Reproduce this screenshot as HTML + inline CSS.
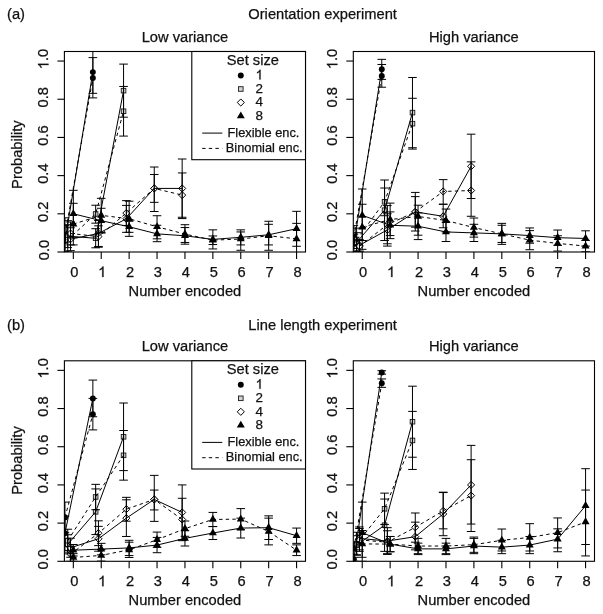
<!DOCTYPE html>
<html><head><meta charset="utf-8"><style>
html,body{margin:0;padding:0;background:#fff;}
svg{display:block;will-change:transform;}
text{font-family:"Liberation Sans",sans-serif;fill:#111;stroke:#111;stroke-width:0.25px;}
</style></head><body>
<svg width="603" height="614" viewBox="0 0 603 614">
<rect width="603" height="614" fill="#fff"/>
<defs><clipPath id="cAL"><rect x="64.40" y="51.50" width="241.10" height="200.50"/></clipPath></defs>
<g clip-path="url(#cAL)">
<circle cx="64.96" cy="240.92" r="2.97" fill="#000"/>
<circle cx="92.86" cy="72.12" r="2.97" fill="#000"/>
<circle cx="64.96" cy="235.01" r="2.97" fill="#000"/>
<circle cx="92.86" cy="78.04" r="2.97" fill="#000"/>
<rect x="65.45" y="233.85" width="4.60" height="4.60" fill="#d2d2d2" stroke="#1a1a1a" stroke-width="0.9"/>
<rect x="93.35" y="235.95" width="4.60" height="4.60" fill="#d2d2d2" stroke="#1a1a1a" stroke-width="0.9"/>
<rect x="121.26" y="88.35" width="4.60" height="4.60" fill="#d2d2d2" stroke="#1a1a1a" stroke-width="0.9"/>
<rect x="65.45" y="237.48" width="4.60" height="4.60" fill="#d2d2d2" stroke="#1a1a1a" stroke-width="0.9"/>
<rect x="93.35" y="211.70" width="4.60" height="4.60" fill="#d2d2d2" stroke="#1a1a1a" stroke-width="0.9"/>
<rect x="121.26" y="108.97" width="4.60" height="4.60" fill="#d2d2d2" stroke="#1a1a1a" stroke-width="0.9"/>
<path d="M70.54 235.64L74.10 239.21L70.54 242.77L66.98 239.21Z" fill="#fff" stroke="#000" stroke-width="1"/>
<path d="M98.44 229.91L102.01 233.48L98.44 237.04L94.88 233.48Z" fill="#fff" stroke="#000" stroke-width="1"/>
<path d="M126.35 215.21L129.91 218.77L126.35 222.34L122.79 218.77Z" fill="#fff" stroke="#000" stroke-width="1"/>
<path d="M154.25 184.85L157.82 188.41L154.25 191.98L150.69 188.41Z" fill="#fff" stroke="#000" stroke-width="1"/>
<path d="M182.16 184.85L185.72 188.41L182.16 191.98L178.60 188.41Z" fill="#fff" stroke="#000" stroke-width="1"/>
<path d="M70.54 229.91L74.10 233.48L70.54 237.04L66.98 233.48Z" fill="#fff" stroke="#000" stroke-width="1"/>
<path d="M98.44 232.97L102.01 236.53L98.44 240.10L94.88 236.53Z" fill="#fff" stroke="#000" stroke-width="1"/>
<path d="M126.35 209.48L129.91 213.05L126.35 216.61L122.79 213.05Z" fill="#fff" stroke="#000" stroke-width="1"/>
<path d="M154.25 184.85L157.82 188.41L154.25 191.98L150.69 188.41Z" fill="#fff" stroke="#000" stroke-width="1"/>
<path d="M182.16 191.53L185.72 195.10L182.16 198.66L178.60 195.10Z" fill="#fff" stroke="#000" stroke-width="1"/>
<path d="M73.33 209.19L77.33 216.12L69.33 216.12Z" fill="#000"/>
<path d="M101.23 216.07L105.23 222.99L97.23 222.99Z" fill="#000"/>
<path d="M129.14 222.18L133.14 229.10L125.14 229.10Z" fill="#000"/>
<path d="M157.04 229.24L161.04 236.17L153.04 236.17Z" fill="#000"/>
<path d="M184.95 231.15L188.95 238.08L180.95 238.08Z" fill="#000"/>
<path d="M212.86 234.78L216.86 241.71L208.86 241.71Z" fill="#000"/>
<path d="M240.76 232.68L244.76 239.61L236.76 239.61Z" fill="#000"/>
<path d="M268.67 230.20L272.67 237.12L264.67 237.12Z" fill="#000"/>
<path d="M296.57 224.09L300.57 231.01L292.57 231.01Z" fill="#000"/>
<path d="M73.33 219.50L77.33 226.43L69.33 226.43Z" fill="#000"/>
<path d="M101.23 210.72L105.23 217.65L97.23 217.65Z" fill="#000"/>
<path d="M129.14 214.16L133.14 221.08L125.14 221.08Z" fill="#000"/>
<path d="M157.04 222.18L161.04 229.10L153.04 229.10Z" fill="#000"/>
<path d="M184.95 229.43L188.95 236.36L180.95 236.36Z" fill="#000"/>
<path d="M212.86 235.54L216.86 242.47L208.86 242.47Z" fill="#000"/>
<path d="M240.76 234.40L244.76 241.32L236.76 241.32Z" fill="#000"/>
<path d="M268.67 231.15L272.67 238.08L264.67 238.08Z" fill="#000"/>
<path d="M296.57 234.21L300.57 241.13L292.57 241.13Z" fill="#000"/>
<path d="M64.96 240.92 L92.86 72.12" stroke="#000" stroke-width="1.0" fill="none"/>
<path d="M64.96 235.01 L92.86 78.04" stroke="#000" stroke-width="1.0" fill="none" stroke-dasharray="3.4 3.2"/>
<path d="M67.75 236.15 L95.65 238.25 L123.56 90.65" stroke="#000" stroke-width="1.0" fill="none"/>
<path d="M67.75 239.78 L95.65 214.00 L123.56 111.27" stroke="#000" stroke-width="1.0" fill="none" stroke-dasharray="3.4 3.2"/>
<path d="M70.54 239.21 L98.44 233.48 L126.35 218.77 L154.25 188.41 L182.16 188.41" stroke="#000" stroke-width="1.0" fill="none"/>
<path d="M70.54 233.48 L98.44 236.53 L126.35 213.05 L154.25 188.41 L182.16 195.10" stroke="#000" stroke-width="1.0" fill="none" stroke-dasharray="3.4 3.2"/>
<path d="M73.33 213.81 L101.23 220.68 L129.14 226.79 L157.04 233.86 L184.95 235.77 L212.86 239.40 L240.76 237.30 L268.67 234.81 L296.57 228.70" stroke="#000" stroke-width="1.0" fill="none"/>
<path d="M73.33 224.12 L101.23 215.34 L129.14 218.77 L157.04 226.79 L184.95 234.05 L212.86 240.16 L240.76 239.02 L268.67 235.77 L296.57 238.82" stroke="#000" stroke-width="1.0" fill="none" stroke-dasharray="3.4 3.2"/>
<path d="M64.96 252.00V225.65M60.66 252.00H69.26M60.66 225.65H69.26" stroke="#000" stroke-width="1.0" fill="none"/>
<path d="M92.86 93.32V50.93M88.56 93.32H97.16M88.56 50.93H97.16" stroke="#000" stroke-width="1.0" fill="none"/>
<path d="M64.96 252.00V217.82M60.66 252.00H69.26M60.66 217.82H69.26" stroke="#000" stroke-width="1.0" fill="none"/>
<path d="M92.86 97.90V57.61M88.56 97.90H97.16M88.56 57.61H97.16" stroke="#000" stroke-width="1.0" fill="none"/>
<path d="M67.75 247.61V224.69M63.45 247.61H72.05M63.45 224.69H72.05" stroke="#000" stroke-width="1.0" fill="none"/>
<path d="M95.65 247.80V228.70M91.35 247.80H99.95M91.35 228.70H99.95" stroke="#000" stroke-width="1.0" fill="none"/>
<path d="M123.56 117.19V64.10M119.26 117.19H127.86M119.26 64.10H127.86" stroke="#000" stroke-width="1.0" fill="none"/>
<path d="M67.75 252.00V220.68M63.45 252.00H72.05M63.45 220.68H72.05" stroke="#000" stroke-width="1.0" fill="none"/>
<path d="M95.65 223.17V205.22M91.35 223.17H99.95M91.35 205.22H99.95" stroke="#000" stroke-width="1.0" fill="none"/>
<path d="M123.56 136.09V86.44M119.26 136.09H127.86M119.26 86.44H127.86" stroke="#000" stroke-width="1.0" fill="none"/>
<path d="M70.54 250.66V227.75M66.24 250.66H74.84M66.24 227.75H74.84" stroke="#000" stroke-width="1.0" fill="none"/>
<path d="M98.44 246.46V220.49M94.14 246.46H102.74M94.14 220.49H102.74" stroke="#000" stroke-width="1.0" fill="none"/>
<path d="M126.35 232.33V205.41M122.05 232.33H130.65M122.05 205.41H130.65" stroke="#000" stroke-width="1.0" fill="none"/>
<path d="M154.25 211.52V167.03M149.95 211.52H158.55M149.95 167.03H158.55" stroke="#000" stroke-width="1.0" fill="none"/>
<path d="M182.16 218.58V159.01M177.86 218.58H186.46M177.86 159.01H186.46" stroke="#000" stroke-width="1.0" fill="none"/>
<path d="M70.54 244.93V222.02M66.24 244.93H74.84M66.24 222.02H74.84" stroke="#000" stroke-width="1.0" fill="none"/>
<path d="M98.44 247.23V225.84M94.14 247.23H102.74M94.14 225.84H102.74" stroke="#000" stroke-width="1.0" fill="none"/>
<path d="M126.35 225.46V200.63M122.05 225.46H130.65M122.05 200.63H130.65" stroke="#000" stroke-width="1.0" fill="none"/>
<path d="M154.25 202.35V174.47M149.95 202.35H158.55M149.95 174.47H158.55" stroke="#000" stroke-width="1.0" fill="none"/>
<path d="M182.16 217.25V172.95M177.86 217.25H186.46M177.86 172.95H186.46" stroke="#000" stroke-width="1.0" fill="none"/>
<path d="M73.33 237.30V190.32M69.03 237.30H77.63M69.03 190.32H77.63" stroke="#000" stroke-width="1.0" fill="none"/>
<path d="M101.23 233.10V208.27M96.93 233.10H105.53M96.93 208.27H105.53" stroke="#000" stroke-width="1.0" fill="none"/>
<path d="M129.14 232.33V221.26M124.84 232.33H133.44M124.84 221.26H133.44" stroke="#000" stroke-width="1.0" fill="none"/>
<path d="M157.04 241.69V225.27M152.74 241.69H161.34M152.74 225.27H161.34" stroke="#000" stroke-width="1.0" fill="none"/>
<path d="M184.95 244.17V227.56M180.65 244.17H189.25M180.65 227.56H189.25" stroke="#000" stroke-width="1.0" fill="none"/>
<path d="M212.86 248.94V229.85M208.56 248.94H217.16M208.56 229.85H217.16" stroke="#000" stroke-width="1.0" fill="none"/>
<path d="M240.76 244.93V229.85M236.46 244.93H245.06M236.46 229.85H245.06" stroke="#000" stroke-width="1.0" fill="none"/>
<path d="M268.67 244.93V224.31M264.37 244.93H272.97M264.37 224.31H272.97" stroke="#000" stroke-width="1.0" fill="none"/>
<path d="M296.57 246.27V211.33M292.27 246.27H300.87M292.27 211.33H300.87" stroke="#000" stroke-width="1.0" fill="none"/>
<path d="M73.33 244.93V203.31M69.03 244.93H77.63M69.03 203.31H77.63" stroke="#000" stroke-width="1.0" fill="none"/>
<path d="M101.23 232.33V198.34M96.93 232.33H105.53M96.93 198.34H105.53" stroke="#000" stroke-width="1.0" fill="none"/>
<path d="M129.14 236.34V201.21M124.84 236.34H133.44M124.84 201.21H133.44" stroke="#000" stroke-width="1.0" fill="none"/>
<path d="M157.04 238.82V215.72M152.74 238.82H161.34M152.74 215.72H161.34" stroke="#000" stroke-width="1.0" fill="none"/>
<path d="M184.95 242.45V224.69M180.65 242.45H189.25M180.65 224.69H189.25" stroke="#000" stroke-width="1.0" fill="none"/>
<path d="M212.86 244.55V235.96M208.56 244.55H217.16M208.56 235.96H217.16" stroke="#000" stroke-width="1.0" fill="none"/>
<path d="M240.76 250.28V231.95M236.46 250.28H245.06M236.46 231.95H245.06" stroke="#000" stroke-width="1.0" fill="none"/>
<path d="M268.67 250.28V221.26M264.37 250.28H272.97M264.37 221.26H272.97" stroke="#000" stroke-width="1.0" fill="none"/>
<path d="M296.57 254.29V223.36M292.27 254.29H300.87M292.27 223.36H300.87" stroke="#000" stroke-width="1.0" fill="none"/>
</g>
<rect x="64.40" y="51.50" width="241.10" height="200.50" fill="none" stroke="#000" stroke-width="1.1"/>
<line x1="73.33" y1="252.00" x2="73.33" y2="259.00" stroke="#000" stroke-width="1.1"/>
<text x="74.23" y="277.00" font-size="14.7" text-anchor="middle">0</text>
<line x1="101.23" y1="252.00" x2="101.23" y2="259.00" stroke="#000" stroke-width="1.1"/>
<g><path d="M103.52 277.00L102.23 277.00L102.23 268.77L101.78 269.18L101.06 269.68L100.34 270.07L99.65 270.36L99.65 269.14L100.70 268.60L101.56 267.92L102.17 267.24L102.55 266.48L103.52 266.48Z" fill="#111" stroke="#111" stroke-width="0.25"/></g>
<line x1="129.14" y1="252.00" x2="129.14" y2="259.00" stroke="#000" stroke-width="1.1"/>
<text x="130.04" y="277.00" font-size="14.7" text-anchor="middle">2</text>
<line x1="157.04" y1="252.00" x2="157.04" y2="259.00" stroke="#000" stroke-width="1.1"/>
<text x="157.94" y="277.00" font-size="14.7" text-anchor="middle">3</text>
<line x1="184.95" y1="252.00" x2="184.95" y2="259.00" stroke="#000" stroke-width="1.1"/>
<text x="185.85" y="277.00" font-size="14.7" text-anchor="middle">4</text>
<line x1="212.86" y1="252.00" x2="212.86" y2="259.00" stroke="#000" stroke-width="1.1"/>
<text x="213.76" y="277.00" font-size="14.7" text-anchor="middle">5</text>
<line x1="240.76" y1="252.00" x2="240.76" y2="259.00" stroke="#000" stroke-width="1.1"/>
<text x="241.66" y="277.00" font-size="14.7" text-anchor="middle">6</text>
<line x1="268.67" y1="252.00" x2="268.67" y2="259.00" stroke="#000" stroke-width="1.1"/>
<text x="269.57" y="277.00" font-size="14.7" text-anchor="middle">7</text>
<line x1="296.57" y1="252.00" x2="296.57" y2="259.00" stroke="#000" stroke-width="1.1"/>
<text x="297.47" y="277.00" font-size="14.7" text-anchor="middle">8</text>
<line x1="57.40" y1="252.00" x2="64.40" y2="252.00" stroke="#000" stroke-width="1.1"/>
<text x="48.50" y="250.00" font-size="14.7" text-anchor="middle" transform="rotate(-90 48.50 250.00)">0.0</text>
<line x1="57.40" y1="213.81" x2="64.40" y2="213.81" stroke="#000" stroke-width="1.1"/>
<text x="48.50" y="211.81" font-size="14.7" text-anchor="middle" transform="rotate(-90 48.50 211.81)">0.2</text>
<line x1="57.40" y1="175.62" x2="64.40" y2="175.62" stroke="#000" stroke-width="1.1"/>
<text x="48.50" y="173.62" font-size="14.7" text-anchor="middle" transform="rotate(-90 48.50 173.62)">0.4</text>
<line x1="57.40" y1="137.43" x2="64.40" y2="137.43" stroke="#000" stroke-width="1.1"/>
<text x="48.50" y="135.43" font-size="14.7" text-anchor="middle" transform="rotate(-90 48.50 135.43)">0.6</text>
<line x1="57.40" y1="99.24" x2="64.40" y2="99.24" stroke="#000" stroke-width="1.1"/>
<text x="48.50" y="97.24" font-size="14.7" text-anchor="middle" transform="rotate(-90 48.50 97.24)">0.8</text>
<line x1="57.40" y1="61.05" x2="64.40" y2="61.05" stroke="#000" stroke-width="1.1"/>
<g transform="rotate(-90 48.50 59.05)"><path d="M43.76 59.05L42.47 59.05L42.47 50.81L42.01 51.22L41.30 51.73L40.58 52.12L39.88 52.41L39.88 51.19L40.94 50.65L41.80 49.97L42.41 49.29L42.79 48.53L43.76 48.53Z" fill="#111" stroke="#111" stroke-width="0.25"/><text x="46.46" y="59.05" font-size="14.7" text-anchor="start">.0</text></g>
<text x="184.95" y="296.00" font-size="14.7" text-anchor="middle">Number encoded</text>
<text x="184.95" y="42.00" font-size="14.7" text-anchor="middle">Low variance</text>
<text x="21.60" y="154.60" font-size="14.7" text-anchor="middle" transform="rotate(-90 21.60 154.60)">Probability</text>
<defs><clipPath id="cAR"><rect x="353.30" y="51.50" width="241.20" height="200.50"/></clipPath></defs>
<g clip-path="url(#cAR)">
<circle cx="353.86" cy="243.79" r="2.97" fill="#000"/>
<circle cx="381.78" cy="69.26" r="2.97" fill="#000"/>
<circle cx="353.86" cy="237.11" r="2.97" fill="#000"/>
<circle cx="381.78" cy="75.94" r="2.97" fill="#000"/>
<rect x="354.35" y="239.96" width="4.60" height="4.60" fill="#d2d2d2" stroke="#1a1a1a" stroke-width="0.9"/>
<rect x="382.27" y="207.88" width="4.60" height="4.60" fill="#d2d2d2" stroke="#1a1a1a" stroke-width="0.9"/>
<rect x="410.18" y="110.30" width="4.60" height="4.60" fill="#d2d2d2" stroke="#1a1a1a" stroke-width="0.9"/>
<rect x="354.35" y="237.29" width="4.60" height="4.60" fill="#d2d2d2" stroke="#1a1a1a" stroke-width="0.9"/>
<rect x="382.27" y="199.48" width="4.60" height="4.60" fill="#d2d2d2" stroke="#1a1a1a" stroke-width="0.9"/>
<rect x="410.18" y="121.38" width="4.60" height="4.60" fill="#d2d2d2" stroke="#1a1a1a" stroke-width="0.9"/>
<path d="M359.44 241.75L363.01 245.32L359.44 248.88L355.88 245.32Z" fill="#fff" stroke="#000" stroke-width="1"/>
<path d="M387.36 226.29L390.92 229.85L387.36 233.41L383.79 229.85Z" fill="#fff" stroke="#000" stroke-width="1"/>
<path d="M415.27 208.34L418.84 211.90L415.27 215.46L411.71 211.90Z" fill="#fff" stroke="#000" stroke-width="1"/>
<path d="M443.19 212.73L446.76 216.29L443.19 219.86L439.63 216.29Z" fill="#fff" stroke="#000" stroke-width="1"/>
<path d="M471.11 162.70L474.67 166.26L471.11 169.83L467.54 166.26Z" fill="#fff" stroke="#000" stroke-width="1"/>
<path d="M359.44 242.71L363.01 246.27L359.44 249.84L355.88 246.27Z" fill="#fff" stroke="#000" stroke-width="1"/>
<path d="M387.36 221.13L390.92 224.69L387.36 228.26L383.79 224.69Z" fill="#fff" stroke="#000" stroke-width="1"/>
<path d="M415.27 208.34L418.84 211.90L415.27 215.46L411.71 211.90Z" fill="#fff" stroke="#000" stroke-width="1"/>
<path d="M443.19 187.90L446.76 191.47L443.19 195.03L439.63 191.47Z" fill="#fff" stroke="#000" stroke-width="1"/>
<path d="M471.11 186.95L474.67 190.51L471.11 194.08L467.54 190.51Z" fill="#fff" stroke="#000" stroke-width="1"/>
<path d="M362.23 210.72L366.23 217.65L358.23 217.65Z" fill="#000"/>
<path d="M390.15 220.65L394.15 227.58L386.15 227.58Z" fill="#000"/>
<path d="M418.07 221.60L422.07 228.53L414.07 228.53Z" fill="#000"/>
<path d="M445.98 227.33L449.98 234.26L441.98 234.26Z" fill="#000"/>
<path d="M473.90 228.29L477.90 235.21L469.90 235.21Z" fill="#000"/>
<path d="M501.82 229.24L505.82 236.17L497.82 236.17Z" fill="#000"/>
<path d="M529.73 230.96L533.73 237.89L525.73 237.89Z" fill="#000"/>
<path d="M557.65 233.06L561.65 239.99L553.65 239.99Z" fill="#000"/>
<path d="M585.57 233.82L589.57 240.75L581.57 240.75Z" fill="#000"/>
<path d="M362.23 222.56L366.23 229.49L358.23 229.49Z" fill="#000"/>
<path d="M390.15 214.92L394.15 221.85L386.15 221.85Z" fill="#000"/>
<path d="M418.07 211.86L422.07 218.79L414.07 218.79Z" fill="#000"/>
<path d="M445.98 215.87L449.98 222.80L441.98 222.80Z" fill="#000"/>
<path d="M473.90 222.94L477.90 229.87L469.90 229.87Z" fill="#000"/>
<path d="M501.82 229.24L505.82 236.17L497.82 236.17Z" fill="#000"/>
<path d="M529.73 235.54L533.73 242.47L525.73 242.47Z" fill="#000"/>
<path d="M557.65 238.79L561.65 245.72L553.65 245.72Z" fill="#000"/>
<path d="M585.57 241.46L589.57 248.39L581.57 248.39Z" fill="#000"/>
<path d="M353.86 243.79 L381.78 69.26" stroke="#000" stroke-width="1.0" fill="none"/>
<path d="M353.86 237.11 L381.78 75.94" stroke="#000" stroke-width="1.0" fill="none" stroke-dasharray="3.4 3.2"/>
<path d="M356.65 242.26 L384.57 210.18 L412.48 112.60" stroke="#000" stroke-width="1.0" fill="none"/>
<path d="M356.65 239.59 L384.57 201.78 L412.48 123.68" stroke="#000" stroke-width="1.0" fill="none" stroke-dasharray="3.4 3.2"/>
<path d="M359.44 245.32 L387.36 229.85 L415.27 211.90 L443.19 216.29 L471.11 166.26" stroke="#000" stroke-width="1.0" fill="none"/>
<path d="M359.44 246.27 L387.36 224.69 L415.27 211.90 L443.19 191.47 L471.11 190.51" stroke="#000" stroke-width="1.0" fill="none" stroke-dasharray="3.4 3.2"/>
<path d="M362.23 215.34 L390.15 225.27 L418.07 226.22 L445.98 231.95 L473.90 232.90 L501.82 233.86 L529.73 235.58 L557.65 237.68 L585.57 238.44" stroke="#000" stroke-width="1.0" fill="none"/>
<path d="M362.23 227.18 L390.15 219.54 L418.07 216.48 L445.98 220.49 L473.90 227.56 L501.82 233.86 L529.73 240.16 L557.65 243.41 L585.57 246.08" stroke="#000" stroke-width="1.0" fill="none" stroke-dasharray="3.4 3.2"/>
<path d="M353.86 252.00V234.24M349.56 252.00H358.16M349.56 234.24H358.16" stroke="#000" stroke-width="1.0" fill="none"/>
<path d="M381.78 79.38V59.33M377.48 79.38H386.08M377.48 59.33H386.08" stroke="#000" stroke-width="1.0" fill="none"/>
<path d="M353.86 248.56V225.65M349.56 248.56H358.16M349.56 225.65H358.16" stroke="#000" stroke-width="1.0" fill="none"/>
<path d="M381.78 87.21V64.48M377.48 87.21H386.08M377.48 64.48H386.08" stroke="#000" stroke-width="1.0" fill="none"/>
<path d="M356.65 251.81V232.71M352.35 251.81H360.95M352.35 232.71H360.95" stroke="#000" stroke-width="1.0" fill="none"/>
<path d="M384.57 240.54V180.01M380.27 240.54H388.87M380.27 180.01H388.87" stroke="#000" stroke-width="1.0" fill="none"/>
<path d="M412.48 147.74V77.47M408.18 147.74H416.78M408.18 77.47H416.78" stroke="#000" stroke-width="1.0" fill="none"/>
<path d="M356.65 251.05V228.13M352.35 251.05H360.95M352.35 228.13H360.95" stroke="#000" stroke-width="1.0" fill="none"/>
<path d="M384.57 215.72V188.03M380.27 215.72H388.87M380.27 188.03H388.87" stroke="#000" stroke-width="1.0" fill="none"/>
<path d="M412.48 149.08V98.28M408.18 149.08H416.78M408.18 98.28H416.78" stroke="#000" stroke-width="1.0" fill="none"/>
<path d="M359.44 251.05V239.59M355.14 251.05H363.74M355.14 239.59H363.74" stroke="#000" stroke-width="1.0" fill="none"/>
<path d="M387.36 246.08V213.81M383.06 246.08H391.66M383.06 213.81H391.66" stroke="#000" stroke-width="1.0" fill="none"/>
<path d="M415.27 231.00V192.42M410.97 231.00H419.57M410.97 192.42H419.57" stroke="#000" stroke-width="1.0" fill="none"/>
<path d="M443.19 227.75V204.26M438.89 227.75H447.49M438.89 204.26H447.49" stroke="#000" stroke-width="1.0" fill="none"/>
<path d="M471.11 198.53V134.18M466.81 198.53H475.41M466.81 134.18H475.41" stroke="#000" stroke-width="1.0" fill="none"/>
<path d="M359.44 252.00V240.54M355.14 252.00H363.74M355.14 240.54H363.74" stroke="#000" stroke-width="1.0" fill="none"/>
<path d="M387.36 243.79V205.60M383.06 243.79H391.66M383.06 205.60H391.66" stroke="#000" stroke-width="1.0" fill="none"/>
<path d="M415.27 227.18V196.62M410.97 227.18H419.57M410.97 196.62H419.57" stroke="#000" stroke-width="1.0" fill="none"/>
<path d="M443.19 204.26V179.63M438.89 204.26H447.49M438.89 179.63H447.49" stroke="#000" stroke-width="1.0" fill="none"/>
<path d="M471.11 216.29V161.87M466.81 216.29H475.41M466.81 161.87H475.41" stroke="#000" stroke-width="1.0" fill="none"/>
<path d="M362.23 240.54V188.99M357.93 240.54H366.53M357.93 188.99H366.53" stroke="#000" stroke-width="1.0" fill="none"/>
<path d="M390.15 238.63V211.90M385.85 238.63H394.45M385.85 211.90H394.45" stroke="#000" stroke-width="1.0" fill="none"/>
<path d="M418.07 239.59V212.85M413.77 239.59H422.37M413.77 212.85H422.37" stroke="#000" stroke-width="1.0" fill="none"/>
<path d="M445.98 241.50V222.40M441.68 241.50H450.28M441.68 222.40H450.28" stroke="#000" stroke-width="1.0" fill="none"/>
<path d="M473.90 241.50V224.31M469.60 241.50H478.20M469.60 224.31H478.20" stroke="#000" stroke-width="1.0" fill="none"/>
<path d="M501.82 244.36V223.36M497.52 244.36H506.12M497.52 223.36H506.12" stroke="#000" stroke-width="1.0" fill="none"/>
<path d="M529.73 243.22V227.94M525.43 243.22H534.03M525.43 227.94H534.03" stroke="#000" stroke-width="1.0" fill="none"/>
<path d="M557.65 245.32V230.04M553.35 245.32H561.95M553.35 230.04H561.95" stroke="#000" stroke-width="1.0" fill="none"/>
<path d="M585.57 246.08V230.80M581.27 246.08H589.87M581.27 230.80H589.87" stroke="#000" stroke-width="1.0" fill="none"/>
<path d="M362.23 249.33V204.26M357.93 249.33H366.53M357.93 204.26H366.53" stroke="#000" stroke-width="1.0" fill="none"/>
<path d="M390.15 235.58V203.12M385.85 235.58H394.45M385.85 203.12H394.45" stroke="#000" stroke-width="1.0" fill="none"/>
<path d="M418.07 235.20V205.22M413.77 235.20H422.37M413.77 205.22H422.37" stroke="#000" stroke-width="1.0" fill="none"/>
<path d="M445.98 231.95V209.04M441.68 231.95H450.28M441.68 209.04H450.28" stroke="#000" stroke-width="1.0" fill="none"/>
<path d="M473.90 237.11V218.01M469.60 237.11H478.20M469.60 218.01H478.20" stroke="#000" stroke-width="1.0" fill="none"/>
<path d="M501.82 242.45V225.27M497.52 242.45H506.12M497.52 225.27H506.12" stroke="#000" stroke-width="1.0" fill="none"/>
<path d="M529.73 249.71V230.61M525.43 249.71H534.03M525.43 230.61H534.03" stroke="#000" stroke-width="1.0" fill="none"/>
<path d="M557.65 251.05V235.77M553.35 251.05H561.95M553.35 235.77H561.95" stroke="#000" stroke-width="1.0" fill="none"/>
<path d="M585.57 251.81V240.35M581.27 251.81H589.87M581.27 240.35H589.87" stroke="#000" stroke-width="1.0" fill="none"/>
</g>
<rect x="353.30" y="51.50" width="241.20" height="200.50" fill="none" stroke="#000" stroke-width="1.1"/>
<line x1="362.23" y1="252.00" x2="362.23" y2="259.00" stroke="#000" stroke-width="1.1"/>
<text x="363.13" y="277.00" font-size="14.7" text-anchor="middle">0</text>
<line x1="390.15" y1="252.00" x2="390.15" y2="259.00" stroke="#000" stroke-width="1.1"/>
<g><path d="M392.44 277.00L391.15 277.00L391.15 268.77L390.69 269.18L389.98 269.68L389.26 270.07L388.56 270.36L388.56 269.14L389.62 268.60L390.48 267.92L391.09 267.24L391.47 266.48L392.44 266.48Z" fill="#111" stroke="#111" stroke-width="0.25"/></g>
<line x1="418.07" y1="252.00" x2="418.07" y2="259.00" stroke="#000" stroke-width="1.1"/>
<text x="418.97" y="277.00" font-size="14.7" text-anchor="middle">2</text>
<line x1="445.98" y1="252.00" x2="445.98" y2="259.00" stroke="#000" stroke-width="1.1"/>
<text x="446.88" y="277.00" font-size="14.7" text-anchor="middle">3</text>
<line x1="473.90" y1="252.00" x2="473.90" y2="259.00" stroke="#000" stroke-width="1.1"/>
<text x="474.80" y="277.00" font-size="14.7" text-anchor="middle">4</text>
<line x1="501.82" y1="252.00" x2="501.82" y2="259.00" stroke="#000" stroke-width="1.1"/>
<text x="502.72" y="277.00" font-size="14.7" text-anchor="middle">5</text>
<line x1="529.73" y1="252.00" x2="529.73" y2="259.00" stroke="#000" stroke-width="1.1"/>
<text x="530.63" y="277.00" font-size="14.7" text-anchor="middle">6</text>
<line x1="557.65" y1="252.00" x2="557.65" y2="259.00" stroke="#000" stroke-width="1.1"/>
<text x="558.55" y="277.00" font-size="14.7" text-anchor="middle">7</text>
<line x1="585.57" y1="252.00" x2="585.57" y2="259.00" stroke="#000" stroke-width="1.1"/>
<text x="586.47" y="277.00" font-size="14.7" text-anchor="middle">8</text>
<line x1="346.30" y1="252.00" x2="353.30" y2="252.00" stroke="#000" stroke-width="1.1"/>
<text x="337.40" y="250.00" font-size="14.7" text-anchor="middle" transform="rotate(-90 337.40 250.00)">0.0</text>
<line x1="346.30" y1="213.81" x2="353.30" y2="213.81" stroke="#000" stroke-width="1.1"/>
<text x="337.40" y="211.81" font-size="14.7" text-anchor="middle" transform="rotate(-90 337.40 211.81)">0.2</text>
<line x1="346.30" y1="175.62" x2="353.30" y2="175.62" stroke="#000" stroke-width="1.1"/>
<text x="337.40" y="173.62" font-size="14.7" text-anchor="middle" transform="rotate(-90 337.40 173.62)">0.4</text>
<line x1="346.30" y1="137.43" x2="353.30" y2="137.43" stroke="#000" stroke-width="1.1"/>
<text x="337.40" y="135.43" font-size="14.7" text-anchor="middle" transform="rotate(-90 337.40 135.43)">0.6</text>
<line x1="346.30" y1="99.24" x2="353.30" y2="99.24" stroke="#000" stroke-width="1.1"/>
<text x="337.40" y="97.24" font-size="14.7" text-anchor="middle" transform="rotate(-90 337.40 97.24)">0.8</text>
<line x1="346.30" y1="61.05" x2="353.30" y2="61.05" stroke="#000" stroke-width="1.1"/>
<g transform="rotate(-90 337.40 59.05)"><path d="M332.66 59.05L331.37 59.05L331.37 50.81L330.91 51.22L330.20 51.73L329.48 52.12L328.78 52.41L328.78 51.19L329.84 50.65L330.70 49.97L331.31 49.29L331.69 48.53L332.66 48.53Z" fill="#111" stroke="#111" stroke-width="0.25"/><text x="335.36" y="59.05" font-size="14.7" text-anchor="start">.0</text></g>
<text x="473.90" y="296.00" font-size="14.7" text-anchor="middle">Number encoded</text>
<text x="473.90" y="42.00" font-size="14.7" text-anchor="middle">High variance</text>
<defs><clipPath id="cBL"><rect x="64.40" y="360.80" width="241.10" height="200.50"/></clipPath></defs>
<g clip-path="url(#cBL)">
<circle cx="64.96" cy="533.23" r="2.97" fill="#000"/>
<circle cx="92.86" cy="398.42" r="2.97" fill="#000"/>
<circle cx="64.96" cy="517.38" r="2.97" fill="#000"/>
<circle cx="92.86" cy="414.27" r="2.97" fill="#000"/>
<rect x="65.45" y="542.01" width="4.60" height="4.60" fill="#d2d2d2" stroke="#1a1a1a" stroke-width="0.9"/>
<rect x="93.35" y="509.54" width="4.60" height="4.60" fill="#d2d2d2" stroke="#1a1a1a" stroke-width="0.9"/>
<rect x="121.26" y="434.50" width="4.60" height="4.60" fill="#d2d2d2" stroke="#1a1a1a" stroke-width="0.9"/>
<rect x="65.45" y="538.38" width="4.60" height="4.60" fill="#d2d2d2" stroke="#1a1a1a" stroke-width="0.9"/>
<rect x="93.35" y="494.65" width="4.60" height="4.60" fill="#d2d2d2" stroke="#1a1a1a" stroke-width="0.9"/>
<rect x="121.26" y="453.02" width="4.60" height="4.60" fill="#d2d2d2" stroke="#1a1a1a" stroke-width="0.9"/>
<path d="M70.54 544.18L74.10 547.74L70.54 551.31L66.98 547.74Z" fill="#fff" stroke="#000" stroke-width="1"/>
<path d="M98.44 535.20L102.01 538.77L98.44 542.33L94.88 538.77Z" fill="#fff" stroke="#000" stroke-width="1"/>
<path d="M126.35 514.58L129.91 518.14L126.35 521.71L122.79 518.14Z" fill="#fff" stroke="#000" stroke-width="1"/>
<path d="M154.25 495.87L157.82 499.43L154.25 503.00L150.69 499.43Z" fill="#fff" stroke="#000" stroke-width="1"/>
<path d="M182.16 508.85L185.72 512.42L182.16 515.98L178.60 512.42Z" fill="#fff" stroke="#000" stroke-width="1"/>
<path d="M70.54 550.67L74.10 554.23L70.54 557.80L66.98 554.23Z" fill="#fff" stroke="#000" stroke-width="1"/>
<path d="M98.44 529.67L102.01 533.23L98.44 536.79L94.88 533.23Z" fill="#fff" stroke="#000" stroke-width="1"/>
<path d="M126.35 505.61L129.91 509.17L126.35 512.73L122.79 509.17Z" fill="#fff" stroke="#000" stroke-width="1"/>
<path d="M154.25 495.87L157.82 499.43L154.25 503.00L150.69 499.43Z" fill="#fff" stroke="#000" stroke-width="1"/>
<path d="M182.16 515.92L185.72 519.48L182.16 523.05L178.60 519.48Z" fill="#fff" stroke="#000" stroke-width="1"/>
<path d="M73.33 545.61L77.33 552.53L69.33 552.53Z" fill="#000"/>
<path d="M101.23 544.46L105.23 551.39L97.23 551.39Z" fill="#000"/>
<path d="M129.14 543.31L133.14 550.24L125.14 550.24Z" fill="#000"/>
<path d="M157.04 540.45L161.04 547.38L153.04 547.38Z" fill="#000"/>
<path d="M184.95 533.77L188.95 540.70L180.95 540.70Z" fill="#000"/>
<path d="M212.86 528.42L216.86 535.35L208.86 535.35Z" fill="#000"/>
<path d="M240.76 523.46L244.76 530.38L236.76 530.38Z" fill="#000"/>
<path d="M268.67 523.07L272.67 530.00L264.67 530.00Z" fill="#000"/>
<path d="M296.57 531.09L300.57 538.02L292.57 538.02Z" fill="#000"/>
<path d="M73.33 552.86L77.33 559.79L69.33 559.79Z" fill="#000"/>
<path d="M101.23 550.76L105.23 557.69L97.23 557.69Z" fill="#000"/>
<path d="M129.14 545.22L133.14 552.15L125.14 552.15Z" fill="#000"/>
<path d="M157.04 535.10L161.04 542.03L153.04 542.03Z" fill="#000"/>
<path d="M184.95 524.03L188.95 530.96L180.95 530.96Z" fill="#000"/>
<path d="M212.86 514.86L216.86 521.79L208.86 521.79Z" fill="#000"/>
<path d="M240.76 514.48L244.76 521.41L236.76 521.41Z" fill="#000"/>
<path d="M268.67 526.89L272.67 533.82L264.67 533.82Z" fill="#000"/>
<path d="M296.57 545.61L300.57 552.53L292.57 552.53Z" fill="#000"/>
<path d="M64.96 533.23 L92.86 398.42" stroke="#000" stroke-width="1.0" fill="none"/>
<path d="M64.96 517.38 L92.86 414.27" stroke="#000" stroke-width="1.0" fill="none" stroke-dasharray="3.4 3.2"/>
<path d="M67.75 544.31 L95.65 511.84 L123.56 436.80" stroke="#000" stroke-width="1.0" fill="none"/>
<path d="M67.75 540.68 L95.65 496.95 L123.56 455.32" stroke="#000" stroke-width="1.0" fill="none" stroke-dasharray="3.4 3.2"/>
<path d="M70.54 547.74 L98.44 538.77 L126.35 518.14 L154.25 499.43 L182.16 512.42" stroke="#000" stroke-width="1.0" fill="none"/>
<path d="M70.54 554.23 L98.44 533.23 L126.35 509.17 L154.25 499.43 L182.16 519.48" stroke="#000" stroke-width="1.0" fill="none" stroke-dasharray="3.4 3.2"/>
<path d="M73.33 550.22 L101.23 549.08 L129.14 547.93 L157.04 545.07 L184.95 538.39 L212.86 533.04 L240.76 528.07 L268.67 527.69 L296.57 535.71" stroke="#000" stroke-width="1.0" fill="none"/>
<path d="M73.33 557.48 L101.23 555.38 L129.14 549.84 L157.04 539.72 L184.95 528.65 L212.86 519.48 L240.76 519.10 L268.67 531.51 L296.57 550.22" stroke="#000" stroke-width="1.0" fill="none" stroke-dasharray="3.4 3.2"/>
<path d="M64.96 550.42V516.04M60.66 550.42H69.26M60.66 516.04H69.26" stroke="#000" stroke-width="1.0" fill="none"/>
<path d="M92.86 416.75V380.09M88.56 416.75H97.16M88.56 380.09H97.16" stroke="#000" stroke-width="1.0" fill="none"/>
<path d="M64.96 532.66V502.10M60.66 532.66H69.26M60.66 502.10H69.26" stroke="#000" stroke-width="1.0" fill="none"/>
<path d="M92.86 429.92V398.42M88.56 429.92H97.16M88.56 398.42H97.16" stroke="#000" stroke-width="1.0" fill="none"/>
<path d="M67.75 553.85V534.76M63.45 553.85H72.05M63.45 534.76H72.05" stroke="#000" stroke-width="1.0" fill="none"/>
<path d="M95.65 534.57V488.93M91.35 534.57H99.95M91.35 488.93H99.95" stroke="#000" stroke-width="1.0" fill="none"/>
<path d="M123.56 470.60V403.00M119.26 470.60H127.86M119.26 403.00H127.86" stroke="#000" stroke-width="1.0" fill="none"/>
<path d="M67.75 552.13V529.22M63.45 552.13H72.05M63.45 529.22H72.05" stroke="#000" stroke-width="1.0" fill="none"/>
<path d="M95.65 509.74V484.35M91.35 509.74H99.95M91.35 484.35H99.95" stroke="#000" stroke-width="1.0" fill="none"/>
<path d="M123.56 480.15V430.50M119.26 480.15H127.86M119.26 430.50H127.86" stroke="#000" stroke-width="1.0" fill="none"/>
<path d="M70.54 557.29V538.19M66.24 557.29H74.84M66.24 538.19H74.84" stroke="#000" stroke-width="1.0" fill="none"/>
<path d="M98.44 551.18V526.36M94.14 551.18H102.74M94.14 526.36H102.74" stroke="#000" stroke-width="1.0" fill="none"/>
<path d="M126.35 536.48V499.81M122.05 536.48H130.65M122.05 499.81H130.65" stroke="#000" stroke-width="1.0" fill="none"/>
<path d="M154.25 521.39V475.37M149.95 521.39H158.55M149.95 475.37H158.55" stroke="#000" stroke-width="1.0" fill="none"/>
<path d="M182.16 539.91V484.92M177.86 539.91H186.46M177.86 484.92H186.46" stroke="#000" stroke-width="1.0" fill="none"/>
<path d="M70.54 561.30V546.60M66.24 561.30H74.84M66.24 546.60H74.84" stroke="#000" stroke-width="1.0" fill="none"/>
<path d="M98.44 545.64V520.82M94.14 545.64H102.74M94.14 520.82H102.74" stroke="#000" stroke-width="1.0" fill="none"/>
<path d="M126.35 521.20V497.33M122.05 521.20H130.65M122.05 497.33H130.65" stroke="#000" stroke-width="1.0" fill="none"/>
<path d="M154.25 509.93V490.07M149.95 509.93H158.55M149.95 490.07H158.55" stroke="#000" stroke-width="1.0" fill="none"/>
<path d="M182.16 540.68V498.29M177.86 540.68H186.46M177.86 498.29H186.46" stroke="#000" stroke-width="1.0" fill="none"/>
<path d="M73.33 555.95V544.50M69.03 555.95H77.63M69.03 544.50H77.63" stroke="#000" stroke-width="1.0" fill="none"/>
<path d="M101.23 554.81V543.35M96.93 554.81H105.53M96.93 543.35H105.53" stroke="#000" stroke-width="1.0" fill="none"/>
<path d="M129.14 555.57V540.30M124.84 555.57H133.44M124.84 540.30H133.44" stroke="#000" stroke-width="1.0" fill="none"/>
<path d="M157.04 552.71V537.43M152.74 552.71H161.34M152.74 537.43H161.34" stroke="#000" stroke-width="1.0" fill="none"/>
<path d="M184.95 546.02V530.75M180.65 546.02H189.25M180.65 530.75H189.25" stroke="#000" stroke-width="1.0" fill="none"/>
<path d="M212.86 539.53V526.55M208.56 539.53H217.16M208.56 526.55H217.16" stroke="#000" stroke-width="1.0" fill="none"/>
<path d="M240.76 538.00V518.14M236.46 538.00H245.06M236.46 518.14H245.06" stroke="#000" stroke-width="1.0" fill="none"/>
<path d="M268.67 539.53V515.85M264.37 539.53H272.97M264.37 515.85H272.97" stroke="#000" stroke-width="1.0" fill="none"/>
<path d="M296.57 543.35V528.07M292.27 543.35H300.87M292.27 528.07H300.87" stroke="#000" stroke-width="1.0" fill="none"/>
<path d="M73.33 561.30V553.66M69.03 561.30H77.63M69.03 553.66H77.63" stroke="#000" stroke-width="1.0" fill="none"/>
<path d="M101.23 561.11V549.65M96.93 561.11H105.53M96.93 549.65H105.53" stroke="#000" stroke-width="1.0" fill="none"/>
<path d="M129.14 557.48V542.20M124.84 557.48H133.44M124.84 542.20H133.44" stroke="#000" stroke-width="1.0" fill="none"/>
<path d="M157.04 547.36V532.08M152.74 547.36H161.34M152.74 532.08H161.34" stroke="#000" stroke-width="1.0" fill="none"/>
<path d="M184.95 536.29V521.01M180.65 536.29H189.25M180.65 521.01H189.25" stroke="#000" stroke-width="1.0" fill="none"/>
<path d="M212.86 526.55V512.42M208.56 526.55H217.16M208.56 512.42H217.16" stroke="#000" stroke-width="1.0" fill="none"/>
<path d="M240.76 529.60V508.60M236.46 529.60H245.06M236.46 508.60H245.06" stroke="#000" stroke-width="1.0" fill="none"/>
<path d="M268.67 544.88V518.14M264.37 544.88H272.97M264.37 518.14H272.97" stroke="#000" stroke-width="1.0" fill="none"/>
<path d="M296.57 555.57V544.88M292.27 555.57H300.87M292.27 544.88H300.87" stroke="#000" stroke-width="1.0" fill="none"/>
</g>
<rect x="64.40" y="360.80" width="241.10" height="200.50" fill="none" stroke="#000" stroke-width="1.1"/>
<line x1="73.33" y1="561.30" x2="73.33" y2="568.30" stroke="#000" stroke-width="1.1"/>
<text x="74.23" y="586.30" font-size="14.7" text-anchor="middle">0</text>
<line x1="101.23" y1="561.30" x2="101.23" y2="568.30" stroke="#000" stroke-width="1.1"/>
<g><path d="M103.52 586.30L102.23 586.30L102.23 578.07L101.78 578.48L101.06 578.98L100.34 579.37L99.65 579.66L99.65 578.44L100.70 577.90L101.56 577.22L102.17 576.54L102.55 575.78L103.52 575.78Z" fill="#111" stroke="#111" stroke-width="0.25"/></g>
<line x1="129.14" y1="561.30" x2="129.14" y2="568.30" stroke="#000" stroke-width="1.1"/>
<text x="130.04" y="586.30" font-size="14.7" text-anchor="middle">2</text>
<line x1="157.04" y1="561.30" x2="157.04" y2="568.30" stroke="#000" stroke-width="1.1"/>
<text x="157.94" y="586.30" font-size="14.7" text-anchor="middle">3</text>
<line x1="184.95" y1="561.30" x2="184.95" y2="568.30" stroke="#000" stroke-width="1.1"/>
<text x="185.85" y="586.30" font-size="14.7" text-anchor="middle">4</text>
<line x1="212.86" y1="561.30" x2="212.86" y2="568.30" stroke="#000" stroke-width="1.1"/>
<text x="213.76" y="586.30" font-size="14.7" text-anchor="middle">5</text>
<line x1="240.76" y1="561.30" x2="240.76" y2="568.30" stroke="#000" stroke-width="1.1"/>
<text x="241.66" y="586.30" font-size="14.7" text-anchor="middle">6</text>
<line x1="268.67" y1="561.30" x2="268.67" y2="568.30" stroke="#000" stroke-width="1.1"/>
<text x="269.57" y="586.30" font-size="14.7" text-anchor="middle">7</text>
<line x1="296.57" y1="561.30" x2="296.57" y2="568.30" stroke="#000" stroke-width="1.1"/>
<text x="297.47" y="586.30" font-size="14.7" text-anchor="middle">8</text>
<line x1="57.40" y1="561.30" x2="64.40" y2="561.30" stroke="#000" stroke-width="1.1"/>
<text x="48.50" y="559.30" font-size="14.7" text-anchor="middle" transform="rotate(-90 48.50 559.30)">0.0</text>
<line x1="57.40" y1="523.11" x2="64.40" y2="523.11" stroke="#000" stroke-width="1.1"/>
<text x="48.50" y="521.11" font-size="14.7" text-anchor="middle" transform="rotate(-90 48.50 521.11)">0.2</text>
<line x1="57.40" y1="484.92" x2="64.40" y2="484.92" stroke="#000" stroke-width="1.1"/>
<text x="48.50" y="482.92" font-size="14.7" text-anchor="middle" transform="rotate(-90 48.50 482.92)">0.4</text>
<line x1="57.40" y1="446.73" x2="64.40" y2="446.73" stroke="#000" stroke-width="1.1"/>
<text x="48.50" y="444.73" font-size="14.7" text-anchor="middle" transform="rotate(-90 48.50 444.73)">0.6</text>
<line x1="57.40" y1="408.54" x2="64.40" y2="408.54" stroke="#000" stroke-width="1.1"/>
<text x="48.50" y="406.54" font-size="14.7" text-anchor="middle" transform="rotate(-90 48.50 406.54)">0.8</text>
<line x1="57.40" y1="370.35" x2="64.40" y2="370.35" stroke="#000" stroke-width="1.1"/>
<g transform="rotate(-90 48.50 368.35)"><path d="M43.76 368.35L42.47 368.35L42.47 360.11L42.01 360.52L41.30 361.03L40.58 361.42L39.88 361.71L39.88 360.49L40.94 359.95L41.80 359.27L42.41 358.59L42.79 357.83L43.76 357.83Z" fill="#111" stroke="#111" stroke-width="0.25"/><text x="46.46" y="368.35" font-size="14.7" text-anchor="start">.0</text></g>
<text x="184.95" y="605.30" font-size="14.7" text-anchor="middle">Number encoded</text>
<text x="184.95" y="351.30" font-size="14.7" text-anchor="middle">Low variance</text>
<text x="21.60" y="460.50" font-size="14.7" text-anchor="middle" transform="rotate(-90 21.60 460.50)">Probability</text>
<defs><clipPath id="cBR"><rect x="353.30" y="360.80" width="241.20" height="200.50"/></clipPath></defs>
<g clip-path="url(#cBR)">
<circle cx="353.86" cy="559.20" r="2.97" fill="#000"/>
<circle cx="381.78" cy="372.45" r="2.97" fill="#000"/>
<circle cx="353.86" cy="548.51" r="2.97" fill="#000"/>
<circle cx="381.78" cy="383.14" r="2.97" fill="#000"/>
<rect x="354.35" y="542.96" width="4.60" height="4.60" fill="#d2d2d2" stroke="#1a1a1a" stroke-width="0.9"/>
<rect x="382.27" y="522.91" width="4.60" height="4.60" fill="#d2d2d2" stroke="#1a1a1a" stroke-width="0.9"/>
<rect x="410.18" y="419.41" width="4.60" height="4.60" fill="#d2d2d2" stroke="#1a1a1a" stroke-width="0.9"/>
<rect x="354.35" y="541.43" width="4.60" height="4.60" fill="#d2d2d2" stroke="#1a1a1a" stroke-width="0.9"/>
<rect x="382.27" y="506.49" width="4.60" height="4.60" fill="#d2d2d2" stroke="#1a1a1a" stroke-width="0.9"/>
<rect x="410.18" y="438.13" width="4.60" height="4.60" fill="#d2d2d2" stroke="#1a1a1a" stroke-width="0.9"/>
<path d="M359.44 534.82L363.01 538.39L359.44 541.95L355.88 538.39Z" fill="#fff" stroke="#000" stroke-width="1"/>
<path d="M387.36 537.50L390.92 541.06L387.36 544.62L383.79 541.06Z" fill="#fff" stroke="#000" stroke-width="1"/>
<path d="M415.27 533.10L418.84 536.67L415.27 540.23L411.71 536.67Z" fill="#fff" stroke="#000" stroke-width="1"/>
<path d="M443.19 510.38L446.76 513.94L443.19 517.51L439.63 513.94Z" fill="#fff" stroke="#000" stroke-width="1"/>
<path d="M471.11 481.36L474.67 484.92L471.11 488.48L467.54 484.92Z" fill="#fff" stroke="#000" stroke-width="1"/>
<path d="M359.44 536.35L363.01 539.91L359.44 543.48L355.88 539.91Z" fill="#fff" stroke="#000" stroke-width="1"/>
<path d="M387.36 538.64L390.92 542.20L387.36 545.77L383.79 542.20Z" fill="#fff" stroke="#000" stroke-width="1"/>
<path d="M415.27 523.75L418.84 527.31L415.27 530.87L411.71 527.31Z" fill="#fff" stroke="#000" stroke-width="1"/>
<path d="M443.19 507.32L446.76 510.89L443.19 514.45L439.63 510.89Z" fill="#fff" stroke="#000" stroke-width="1"/>
<path d="M471.11 492.05L474.67 495.61L471.11 499.18L467.54 495.61Z" fill="#fff" stroke="#000" stroke-width="1"/>
<path d="M362.23 528.04L366.23 534.97L358.23 534.97Z" fill="#000"/>
<path d="M390.15 539.50L394.15 546.42L386.15 546.42Z" fill="#000"/>
<path d="M418.07 544.27L422.07 551.20L414.07 551.20Z" fill="#000"/>
<path d="M445.98 544.27L449.98 551.20L441.98 551.20Z" fill="#000"/>
<path d="M473.90 541.41L477.90 548.33L469.90 548.33Z" fill="#000"/>
<path d="M501.82 542.55L505.82 549.48L497.82 549.48Z" fill="#000"/>
<path d="M529.73 540.45L533.73 547.38L525.73 547.38Z" fill="#000"/>
<path d="M557.65 534.53L561.65 541.46L553.65 541.46Z" fill="#000"/>
<path d="M585.57 501.11L589.57 508.04L581.57 508.04Z" fill="#000"/>
<path d="M362.23 539.30L366.23 546.23L358.23 546.23Z" fill="#000"/>
<path d="M390.15 539.50L394.15 546.42L386.15 546.42Z" fill="#000"/>
<path d="M418.07 541.41L422.07 548.33L414.07 548.33Z" fill="#000"/>
<path d="M445.98 541.41L449.98 548.33L441.98 548.33Z" fill="#000"/>
<path d="M473.90 540.07L477.90 547.00L469.90 547.00Z" fill="#000"/>
<path d="M501.82 535.68L505.82 542.60L497.82 542.60Z" fill="#000"/>
<path d="M529.73 532.81L533.73 539.74L525.73 539.74Z" fill="#000"/>
<path d="M557.65 528.04L561.65 534.97L553.65 534.97Z" fill="#000"/>
<path d="M585.57 517.35L589.57 524.27L581.57 524.27Z" fill="#000"/>
<path d="M353.86 559.20 L381.78 372.45" stroke="#000" stroke-width="1.0" fill="none"/>
<path d="M353.86 548.51 L381.78 383.14" stroke="#000" stroke-width="1.0" fill="none" stroke-dasharray="3.4 3.2"/>
<path d="M356.65 545.26 L384.57 525.21 L412.48 421.71" stroke="#000" stroke-width="1.0" fill="none"/>
<path d="M356.65 543.73 L384.57 508.79 L412.48 440.43" stroke="#000" stroke-width="1.0" fill="none" stroke-dasharray="3.4 3.2"/>
<path d="M359.44 538.39 L387.36 541.06 L415.27 536.67 L443.19 513.94 L471.11 484.92" stroke="#000" stroke-width="1.0" fill="none"/>
<path d="M359.44 539.91 L387.36 542.20 L415.27 527.31 L443.19 510.89 L471.11 495.61" stroke="#000" stroke-width="1.0" fill="none" stroke-dasharray="3.4 3.2"/>
<path d="M362.23 532.66 L390.15 544.11 L418.07 548.89 L445.98 548.89 L473.90 546.02 L501.82 547.17 L529.73 545.07 L557.65 539.15 L585.57 505.73" stroke="#000" stroke-width="1.0" fill="none"/>
<path d="M362.23 543.92 L390.15 544.11 L418.07 546.02 L445.98 546.02 L473.90 544.69 L501.82 540.30 L529.73 537.43 L557.65 532.66 L585.57 521.96" stroke="#000" stroke-width="1.0" fill="none" stroke-dasharray="3.4 3.2"/>
<path d="M353.86 561.11V557.29M349.56 561.11H358.16M349.56 557.29H358.16" stroke="#000" stroke-width="1.0" fill="none"/>
<path d="M381.78 374.17V370.73M377.48 374.17H386.08M377.48 370.73H386.08" stroke="#000" stroke-width="1.0" fill="none"/>
<path d="M353.86 554.23V542.78M349.56 554.23H358.16M349.56 542.78H358.16" stroke="#000" stroke-width="1.0" fill="none"/>
<path d="M381.78 387.34V378.94M377.48 387.34H386.08M377.48 378.94H386.08" stroke="#000" stroke-width="1.0" fill="none"/>
<path d="M356.65 554.81V535.71M352.35 554.81H360.95M352.35 535.71H360.95" stroke="#000" stroke-width="1.0" fill="none"/>
<path d="M384.57 551.37V499.05M380.27 551.37H388.87M380.27 499.05H388.87" stroke="#000" stroke-width="1.0" fill="none"/>
<path d="M412.48 457.23V386.20M408.18 457.23H416.78M408.18 386.20H416.78" stroke="#000" stroke-width="1.0" fill="none"/>
<path d="M356.65 555.19V532.28M352.35 555.19H360.95M352.35 532.28H360.95" stroke="#000" stroke-width="1.0" fill="none"/>
<path d="M384.57 524.45V493.13M380.27 524.45H388.87M380.27 493.13H388.87" stroke="#000" stroke-width="1.0" fill="none"/>
<path d="M412.48 469.45V411.40M408.18 469.45H416.78M408.18 411.40H416.78" stroke="#000" stroke-width="1.0" fill="none"/>
<path d="M359.44 549.84V526.93M355.14 549.84H363.74M355.14 526.93H363.74" stroke="#000" stroke-width="1.0" fill="none"/>
<path d="M387.36 554.43V527.69M383.06 554.43H391.66M383.06 527.69H391.66" stroke="#000" stroke-width="1.0" fill="none"/>
<path d="M415.27 549.84V522.15M410.97 549.84H419.57M410.97 522.15H419.57" stroke="#000" stroke-width="1.0" fill="none"/>
<path d="M443.19 535.71V492.18M438.89 535.71H447.49M438.89 492.18H447.49" stroke="#000" stroke-width="1.0" fill="none"/>
<path d="M471.11 524.06V445.39M466.81 524.06H475.41M466.81 445.39H475.41" stroke="#000" stroke-width="1.0" fill="none"/>
<path d="M359.44 551.37V528.46M355.14 551.37H363.74M355.14 528.46H363.74" stroke="#000" stroke-width="1.0" fill="none"/>
<path d="M387.36 553.66V530.75M383.06 553.66H391.66M383.06 530.75H391.66" stroke="#000" stroke-width="1.0" fill="none"/>
<path d="M415.27 542.20V512.99M410.97 542.20H419.57M410.97 512.99H419.57" stroke="#000" stroke-width="1.0" fill="none"/>
<path d="M443.19 528.84V492.56M438.89 528.84H447.49M438.89 492.56H447.49" stroke="#000" stroke-width="1.0" fill="none"/>
<path d="M471.11 531.51V459.71M466.81 531.51H475.41M466.81 459.71H475.41" stroke="#000" stroke-width="1.0" fill="none"/>
<path d="M362.23 561.30V502.10M357.93 561.30H366.53M357.93 502.10H366.53" stroke="#000" stroke-width="1.0" fill="none"/>
<path d="M390.15 551.75V536.48M385.85 551.75H394.45M385.85 536.48H394.45" stroke="#000" stroke-width="1.0" fill="none"/>
<path d="M418.07 554.62V543.16M413.77 554.62H422.37M413.77 543.16H422.37" stroke="#000" stroke-width="1.0" fill="none"/>
<path d="M445.98 554.62V543.16M441.68 554.62H450.28M441.68 543.16H450.28" stroke="#000" stroke-width="1.0" fill="none"/>
<path d="M473.90 553.66V538.39M469.60 553.66H478.20M469.60 538.39H478.20" stroke="#000" stroke-width="1.0" fill="none"/>
<path d="M501.82 553.66V540.30M497.52 553.66H506.12M497.52 540.30H506.12" stroke="#000" stroke-width="1.0" fill="none"/>
<path d="M529.73 553.66V536.48M525.43 553.66H534.03M525.43 536.48H534.03" stroke="#000" stroke-width="1.0" fill="none"/>
<path d="M557.65 551.75V528.84M553.35 551.75H561.95M553.35 528.84H561.95" stroke="#000" stroke-width="1.0" fill="none"/>
<path d="M585.57 544.50V468.69M581.27 544.50H589.87M581.27 468.69H589.87" stroke="#000" stroke-width="1.0" fill="none"/>
<path d="M362.23 557.29V530.56M357.93 557.29H366.53M357.93 530.56H366.53" stroke="#000" stroke-width="1.0" fill="none"/>
<path d="M390.15 551.75V536.48M385.85 551.75H394.45M385.85 536.48H394.45" stroke="#000" stroke-width="1.0" fill="none"/>
<path d="M418.07 553.66V538.39M413.77 553.66H422.37M413.77 538.39H422.37" stroke="#000" stroke-width="1.0" fill="none"/>
<path d="M445.98 553.66V538.39M441.68 553.66H450.28M441.68 538.39H450.28" stroke="#000" stroke-width="1.0" fill="none"/>
<path d="M473.90 552.33V537.05M469.60 552.33H478.20M469.60 537.05H478.20" stroke="#000" stroke-width="1.0" fill="none"/>
<path d="M501.82 550.99V529.03M497.52 550.99H506.12M497.52 529.03H506.12" stroke="#000" stroke-width="1.0" fill="none"/>
<path d="M529.73 550.99V523.68M525.43 550.99H534.03M525.43 523.68H534.03" stroke="#000" stroke-width="1.0" fill="none"/>
<path d="M557.65 547.93V517.95M553.35 547.93H561.95M553.35 517.95H561.95" stroke="#000" stroke-width="1.0" fill="none"/>
<path d="M585.57 555.95V490.07M581.27 555.95H589.87M581.27 490.07H589.87" stroke="#000" stroke-width="1.0" fill="none"/>
</g>
<rect x="353.30" y="360.80" width="241.20" height="200.50" fill="none" stroke="#000" stroke-width="1.1"/>
<line x1="362.23" y1="561.30" x2="362.23" y2="568.30" stroke="#000" stroke-width="1.1"/>
<text x="363.13" y="586.30" font-size="14.7" text-anchor="middle">0</text>
<line x1="390.15" y1="561.30" x2="390.15" y2="568.30" stroke="#000" stroke-width="1.1"/>
<g><path d="M392.44 586.30L391.15 586.30L391.15 578.07L390.69 578.48L389.98 578.98L389.26 579.37L388.56 579.66L388.56 578.44L389.62 577.90L390.48 577.22L391.09 576.54L391.47 575.78L392.44 575.78Z" fill="#111" stroke="#111" stroke-width="0.25"/></g>
<line x1="418.07" y1="561.30" x2="418.07" y2="568.30" stroke="#000" stroke-width="1.1"/>
<text x="418.97" y="586.30" font-size="14.7" text-anchor="middle">2</text>
<line x1="445.98" y1="561.30" x2="445.98" y2="568.30" stroke="#000" stroke-width="1.1"/>
<text x="446.88" y="586.30" font-size="14.7" text-anchor="middle">3</text>
<line x1="473.90" y1="561.30" x2="473.90" y2="568.30" stroke="#000" stroke-width="1.1"/>
<text x="474.80" y="586.30" font-size="14.7" text-anchor="middle">4</text>
<line x1="501.82" y1="561.30" x2="501.82" y2="568.30" stroke="#000" stroke-width="1.1"/>
<text x="502.72" y="586.30" font-size="14.7" text-anchor="middle">5</text>
<line x1="529.73" y1="561.30" x2="529.73" y2="568.30" stroke="#000" stroke-width="1.1"/>
<text x="530.63" y="586.30" font-size="14.7" text-anchor="middle">6</text>
<line x1="557.65" y1="561.30" x2="557.65" y2="568.30" stroke="#000" stroke-width="1.1"/>
<text x="558.55" y="586.30" font-size="14.7" text-anchor="middle">7</text>
<line x1="585.57" y1="561.30" x2="585.57" y2="568.30" stroke="#000" stroke-width="1.1"/>
<text x="586.47" y="586.30" font-size="14.7" text-anchor="middle">8</text>
<line x1="346.30" y1="561.30" x2="353.30" y2="561.30" stroke="#000" stroke-width="1.1"/>
<text x="337.40" y="559.30" font-size="14.7" text-anchor="middle" transform="rotate(-90 337.40 559.30)">0.0</text>
<line x1="346.30" y1="523.11" x2="353.30" y2="523.11" stroke="#000" stroke-width="1.1"/>
<text x="337.40" y="521.11" font-size="14.7" text-anchor="middle" transform="rotate(-90 337.40 521.11)">0.2</text>
<line x1="346.30" y1="484.92" x2="353.30" y2="484.92" stroke="#000" stroke-width="1.1"/>
<text x="337.40" y="482.92" font-size="14.7" text-anchor="middle" transform="rotate(-90 337.40 482.92)">0.4</text>
<line x1="346.30" y1="446.73" x2="353.30" y2="446.73" stroke="#000" stroke-width="1.1"/>
<text x="337.40" y="444.73" font-size="14.7" text-anchor="middle" transform="rotate(-90 337.40 444.73)">0.6</text>
<line x1="346.30" y1="408.54" x2="353.30" y2="408.54" stroke="#000" stroke-width="1.1"/>
<text x="337.40" y="406.54" font-size="14.7" text-anchor="middle" transform="rotate(-90 337.40 406.54)">0.8</text>
<line x1="346.30" y1="370.35" x2="353.30" y2="370.35" stroke="#000" stroke-width="1.1"/>
<g transform="rotate(-90 337.40 368.35)"><path d="M332.66 368.35L331.37 368.35L331.37 360.11L330.91 360.52L330.20 361.03L329.48 361.42L328.78 361.71L328.78 360.49L329.84 359.95L330.70 359.27L331.31 358.59L331.69 357.83L332.66 357.83Z" fill="#111" stroke="#111" stroke-width="0.25"/><text x="335.36" y="368.35" font-size="14.7" text-anchor="start">.0</text></g>
<text x="473.90" y="605.30" font-size="14.7" text-anchor="middle">Number encoded</text>
<text x="473.90" y="351.30" font-size="14.7" text-anchor="middle">High variance</text>
<rect x="191.80" y="51.50" width="113.70" height="108.20" fill="#fff" stroke="#000" stroke-width="1.1"/>
<text x="252.80" y="65.00" font-size="14.7" text-anchor="middle">Set size</text>
<circle cx="240.80" cy="75.50" r="2.97" fill="#000"/>
<g><path d="M260.57 79.40L259.39 79.40L259.39 71.90L258.98 72.27L258.32 72.73L257.67 73.09L257.03 73.35L257.03 72.24L257.99 71.74L258.78 71.12L259.34 70.50L259.68 69.81L260.57 69.81Z" fill="#111" stroke="#111" stroke-width="0.25"/></g>
<rect x="238.50" y="86.70" width="4.60" height="4.60" fill="#d2d2d2" stroke="#1a1a1a" stroke-width="0.9"/>
<text x="259.30" y="92.90" font-size="13.4" text-anchor="middle">2</text>
<path d="M240.80 98.94L244.36 102.50L240.80 106.06L237.24 102.50Z" fill="#fff" stroke="#000" stroke-width="1"/>
<text x="259.30" y="106.40" font-size="13.4" text-anchor="middle">4</text>
<path d="M240.80 111.38L244.80 118.31L236.80 118.31Z" fill="#000"/>
<text x="259.30" y="119.90" font-size="13.4" text-anchor="middle">8</text>
<line x1="202.2" y1="133.10" x2="222.3" y2="133.10" stroke="#000" stroke-width="1"/>
<line x1="202.2" y1="148.40" x2="222.3" y2="148.40" stroke="#000" stroke-width="1" stroke-dasharray="3.4 3.2"/>
<text x="227.50" y="136.80" font-size="12.8" text-anchor="start">Flexible enc.</text>
<text x="225.80" y="151.80" font-size="12.8" text-anchor="start">Binomial enc.</text>
<rect x="191.80" y="360.80" width="113.70" height="108.20" fill="#fff" stroke="#000" stroke-width="1.1"/>
<text x="252.80" y="374.30" font-size="14.7" text-anchor="middle">Set size</text>
<circle cx="240.80" cy="384.80" r="2.97" fill="#000"/>
<g><path d="M260.57 388.70L259.39 388.70L259.39 381.20L258.98 381.57L258.32 382.03L257.67 382.39L257.03 382.65L257.03 381.54L257.99 381.04L258.78 380.42L259.34 379.80L259.68 379.11L260.57 379.11Z" fill="#111" stroke="#111" stroke-width="0.25"/></g>
<rect x="238.50" y="396.00" width="4.60" height="4.60" fill="#d2d2d2" stroke="#1a1a1a" stroke-width="0.9"/>
<text x="259.30" y="402.20" font-size="13.4" text-anchor="middle">2</text>
<path d="M240.80 408.24L244.36 411.80L240.80 415.36L237.24 411.80Z" fill="#fff" stroke="#000" stroke-width="1"/>
<text x="259.30" y="415.70" font-size="13.4" text-anchor="middle">4</text>
<path d="M240.80 420.68L244.80 427.61L236.80 427.61Z" fill="#000"/>
<text x="259.30" y="429.20" font-size="13.4" text-anchor="middle">8</text>
<line x1="202.2" y1="442.40" x2="222.3" y2="442.40" stroke="#000" stroke-width="1"/>
<line x1="202.2" y1="457.70" x2="222.3" y2="457.70" stroke="#000" stroke-width="1" stroke-dasharray="3.4 3.2"/>
<text x="227.50" y="446.10" font-size="12.8" text-anchor="start">Flexible enc.</text>
<text x="225.80" y="461.10" font-size="12.8" text-anchor="start">Binomial enc.</text>
<text x="322.60" y="18.70" font-size="14.7" text-anchor="middle">Orientation experiment</text>
<text x="322.60" y="329.90" font-size="14.7" text-anchor="middle">Line length experiment</text>
<text x="7.00" y="19.10" font-size="14.7" text-anchor="start">(a)</text>
<text x="7.00" y="330.00" font-size="14.7" text-anchor="start">(b)</text>
</svg></body></html>
